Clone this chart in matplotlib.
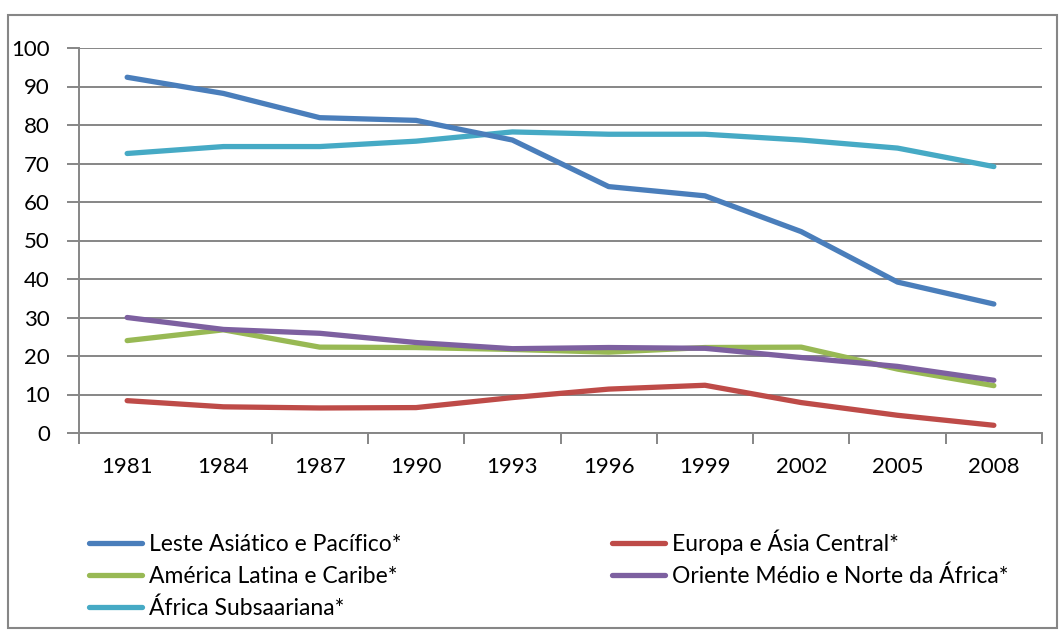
import matplotlib
matplotlib.use("Agg")
import matplotlib.pyplot as plt
from matplotlib.patches import Rectangle
import numpy as np

plt.rcParams['font.family'] = ['Lato', 'DejaVu Sans']

# data
years = ['1981', '1984', '1987', '1990', '1993', '1996', '1999', '2002', '2005', '2008']
leste_asiatico = [92.4, 88.2, 81.9, 81.2, 76.1, 64.0, 61.6, 52.3, 39.2, 33.5]
europa_asia = [8.4, 6.8, 6.5, 6.6, 9.2, 11.4, 12.4, 7.9, 4.6, 2.0]
america_latina = [24.0, 26.8, 22.3, 22.2, 21.7, 21.0, 22.2, 22.3, 16.6, 12.3]
oriente_medio = [30.0, 26.9, 25.9, 23.5, 21.9, 22.2, 22.0, 19.6, 17.3, 13.7]
africa_sub = [72.6, 74.4, 74.4, 75.8, 78.2, 77.6, 77.6, 76.1, 74.0, 69.2]

series = [
    ('Leste Asiático e Pacífico*', leste_asiatico, '#4A7EBB'),
    ('América Latina e Caribe*', america_latina, '#98B954'),
    ('África Subsaariana*', africa_sub, '#46AAC5'),
    ('Europa e Ásia Central*', europa_asia, '#BE4B48'),
    ('Oriente Médio e Norte da África*', oriente_medio, '#7D60A0'),
]
draw_order = [3, 1, 4, 2, 0]

grid_col = '#868686'

fig = plt.figure(figsize=(10.64, 6.3), dpi=100)
ax = fig.add_axes([79 / 1064, 1 - 433 / 630, (1042 - 79) / 1064, (433 - 48) / 630])

x = np.arange(len(years))
lines = {}
for i in draw_order:
    name, vals, col = series[i]
    lines[i], = ax.plot(x, vals, color=col, lw=3.8, solid_capstyle='round',
                        solid_joinstyle='round', label=name, zorder=3)

ax.set_xlim(-0.5, len(years) - 0.5)
ax.set_ylim(0, 100)
ax.set_yticks(np.arange(0, 101, 10))
ax.yaxis.grid(True, color=grid_col, lw=1.4)
ax.set_axisbelow(True)

ax.set_xticks(x)
ax.set_xticklabels(years)
# boundary tick marks between categories (second one absent in the reference)
bounds = [b - 0.5 for b in range(len(years) + 1) if b != 1]
ax.set_xticks(bounds, minor=True)
ax.tick_params(axis='x', which='major', length=0, pad=17, labelsize=16)
ax.tick_params(axis='x', which='minor', length=8, width=1.4, color=grid_col, direction='out')
ax.tick_params(axis='y', length=9, width=1.4, color=grid_col, pad=12, labelsize=16)

for s in ['top', 'right']:
    ax.spines[s].set_visible(False)
for s in ['left', 'bottom']:
    ax.spines[s].set_color(grid_col)
    ax.spines[s].set_linewidth(1.4)

handles = [lines[i] for i in range(5)]
fig.legend(handles, [s[0] for s in series], ncol=2, frameon=False,
           loc='upper left', bbox_to_anchor=(78 / 1064, 1 - 518 / 630),
           fontsize=16.5, handlelength=2.3, handletextpad=0.3,
           columnspacing=9.2, labelspacing=0.48, borderpad=0)

# outer chart border
fig.patches.append(Rectangle((8 / 1064, 2 / 630), (1057 - 8) / 1064, (628 - 15) / 630,
                             transform=fig.transFigure, fill=False,
                             edgecolor=grid_col, lw=1.5))

fig.savefig('out.png', dpi=100)
